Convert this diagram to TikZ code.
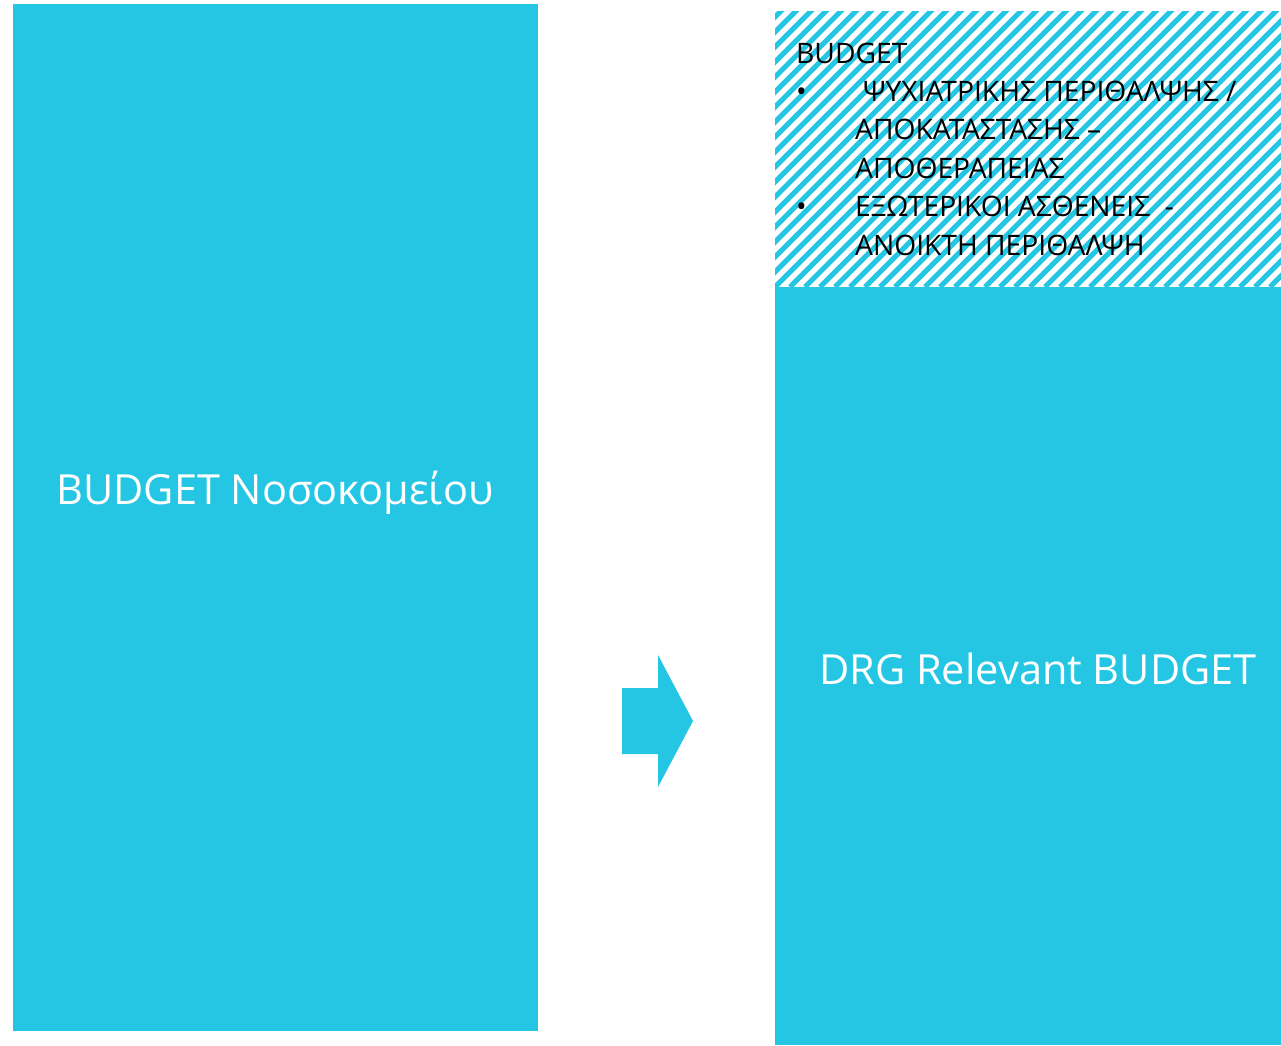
\documentclass[tikz,border=0pt]{standalone}
\usepackage{fontspec}
\setmainfont{Open Sans}
\definecolor{cyanbox}{RGB}{37,198,227}
\begin{document}
\begin{tikzpicture}[x=1pt,y=-1pt,
  box/.style={fill=cyanbox,draw=none},
  bigtext/.style={text=white,font=\fontsize{41.5}{50}\selectfont,inner sep=0pt},
  listtext/.style={text=black,font=\fontsize{28.2}{38.4}\selectfont,inner sep=0pt,align=left},
  stripe/.style={draw=cyanbox,line width=5.2pt}]
\useasboundingbox (0,0) rectangle (1281,1045);
% left box
\fill[box] (13,4) rectangle (538,1031);
\node[bigtext,anchor=base] (left) at (275,504) {BUDGET Νοσοκομείου};
% right box
\fill[box] (775,287) rectangle (1281,1045);
\node[bigtext,anchor=base] (right) at (1038,684) {DRG Relevant BUDGET};
% hatched region
\begin{scope}
\clip (775,11) rectangle (1281,287);
\foreach \i in {-300,-285,...,1300}{
  \draw[stripe] (775+\i,287) -- ++(300,-300);
}
\end{scope}
\node[listtext,anchor=base west] (list) at (796,255) {BUDGET\\
\makebox[59pt][l]{•}\hspace{8pt}ΨΥΧΙΑΤΡΙΚΗΣ ΠΕΡΙΘΑΛΨΗΣ /\\
\hspace{59pt}ΑΠΟΚΑΤΑΣΤΑΣΗΣ –\\
\hspace{59pt}ΑΠΟΘΕΡΑΠΕΙΑΣ\\
\makebox[59pt][l]{•}ΕΞΩΤΕΡΙΚΟΙ ΑΣΘΕΝΕΙΣ \ -\\
\hspace{59pt}ΑΝΟΙΚΤΗ ΠΕΡΙΘΑΛΨΗ};
% arrow
\fill[box] (622,688) -- (658,688) -- (658,655) -- (693,721) -- (658,787) -- (658,754) -- (622,754) -- cycle;
\end{tikzpicture}
\end{document}
